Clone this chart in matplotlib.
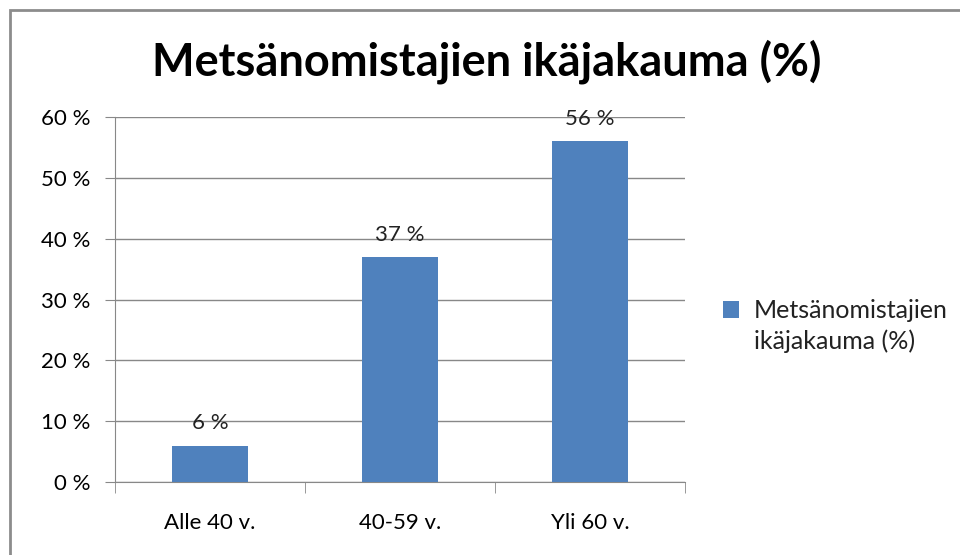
import matplotlib
matplotlib.use("Agg")
import matplotlib.pyplot as plt
from matplotlib.patches import Rectangle

# Data
categories = ["Alle 40 v.", "40-59 v.", "Yli 60 v."]
values = [6, 37, 56]
yticks = [0, 10, 20, 30, 40, 50, 60]
series_lines = ["Metsänomistajien", "ikäjakauma (%)"]
title = "Metsänomistajien ikäjakauma (%)"

plt.rcParams['font.family'] = ['Lato', 'DejaVu Sans']

fig = plt.figure(figsize=(9.6, 5.55), dpi=100)
ax = fig.add_axes([0.1198, 0.1315, 0.5937, 0.6577])

# outer chart border
fig.patches.append(Rectangle((10 / 960, -0.1), 1.2, 1 - 10 / 555 + 0.1,
                             transform=fig.transFigure, fill=False,
                             edgecolor="#8c8c8c", linewidth=2.0))

x = range(len(categories))
bars = ax.bar(x, values, width=0.4, color="#4F81BD", zorder=3)

for xi, v in zip(x, values):
    ax.text(xi, v + 2.0, f"{v} %", ha="center", va="bottom", fontsize=16, color="#222222")

ax.set_xlim(-0.5, 2.5)
ax.set_ylim(0, 60)
ax.set_yticks(yticks)
ax.set_yticklabels([f"{t} %" for t in yticks], fontsize=16)
ax.set_xticks(x)
ax.set_xticklabels(categories, fontsize=16)
ax.tick_params(axis="x", length=0, pad=22)
ax.tick_params(axis="y", length=7, color="#888888", pad=11)
# category boundary ticks
ax.set_xticks([-0.5, 0.5, 1.5, 2.5], minor=True)
ax.tick_params(axis="x", which="minor", length=8, color="#888888")

ax.grid(axis="y", color="#888888", linewidth=1.0, zorder=0)
for s in ["top", "right"]:
    ax.spines[s].set_visible(False)
for s in ["left", "bottom"]:
    ax.spines[s].set_color("#888888")

fig.text(0.507, 0.888, title, ha="center", va="center", fontsize=32.5, fontweight="bold")

# legend: marker beside the first line, label wraps to a second line
leg = fig.legend(handles=[bars], labels=[series_lines[0]], loc="center left",
                 bbox_to_anchor=(723 / 960, 1 - 311 / 555), frameon=False, fontsize=18,
                 handlelength=0.65, handleheight=0.65, handletextpad=0.6,
                 borderpad=0, borderaxespad=0)
for t in leg.get_texts():
    t.set_color("#222222")
fig.canvas.draw()
bb = leg.get_texts()[0].get_window_extent()
fig.text(bb.x0 / fig.bbox.width, 1 - 341 / 555, series_lines[1],
         ha="left", va="center", fontsize=18, color="#222222")

fig.savefig("out.png", dpi=100)
